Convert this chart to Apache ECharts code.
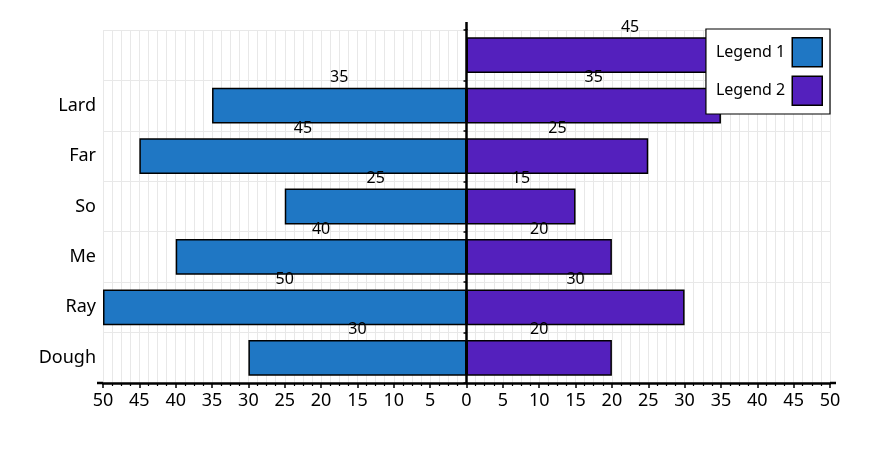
<!DOCTYPE html>
<html><head><meta charset="utf-8">
<script src="https://cdn.jsdelivr.net/npm/echarts@6/dist/echarts.min.js"></script>
<style>html,body{margin:0;padding:0;background:#fff}#c{width:892px;height:450px}</style>
</head><body><div id="c"></div>
<script>
var categories = ['Dough', 'Ray', 'Me', 'So', 'Far', 'Lard', ''];
var legend1 = [30, 50, 40, 25, 45, 35, null];
var legend2 = [20, 30, 20, 15, 25, 35, 45];
var tickValues = [-50, 50, 5];

var W = 892, H = 450;
var gridLeft = 103, gridRight = 62, gridTop = 30, gridBottom = 67;
var plotW = W - gridLeft - gridRight;
var zeroOffset = -plotW * (0 - tickValues[0]) / (tickValues[1] - tickValues[0]);

var chart = echarts.init(document.getElementById('c'));
var font = 'Noto Sans';
chart.setOption({
  animation: false,
  textStyle: {fontFamily: font},
  grid: {left: gridLeft, right: gridRight, top: gridTop, bottom: gridBottom},
  legend: {
    right: 62, top: 29,
    orient: 'vertical',
    align: 'right',
    icon: 'rect',
    itemWidth: 30, itemHeight: 29, itemGap: 8,
    padding: [8, 7, 8, 10],
    backgroundColor: '#fff',
    borderColor: '#000', borderWidth: 1.2,
    textStyle: {fontSize: 16, color: '#000', fontFamily: font, padding: [0, 2, 0, 0]},
    data: [
      {name: 'Legend 1', itemStyle: {borderColor: '#000', borderWidth: 1.5}},
      {name: 'Legend 2', itemStyle: {borderColor: '#000', borderWidth: 1.5}}
    ]
  },
  xAxis: {
    type: 'value', min: tickValues[0], max: tickValues[1], interval: tickValues[2],
    axisLine: {show: true, onZero: false, lineStyle: {color: '#000', width: 2.5}},
    axisTick: {show: true, length: 5, lineStyle: {color: '#000', width: 1.5}},
    minorTick: {show: true, splitNumber: 4, length: 3, lineStyle: {color: '#000', width: 1.2}},
    axisLabel: {fontSize: 18, color: '#000', margin: 9, fontFamily: font,
      formatter: function (v) { return String(Math.abs(v)); }},
    splitLine: {show: true, lineStyle: {color: '#e8e8e8', width: 1}},
    minorSplitLine: {show: true, lineStyle: {color: '#e8e8e8', width: 1}}
  },
  yAxis: [{
    type: 'category', data: categories, position: 'left',
    axisLine: {show: false},
    axisTick: {show: false},
    axisLabel: {fontSize: 18, color: '#000', margin: 7, fontFamily: font},
    splitLine: {show: true, lineStyle: {color: '#e8e8e8', width: 1}}
  }, {
    type: 'category', data: categories, position: 'left', offset: zeroOffset,
    axisLine: {show: true, onZero: false, lineStyle: {color: '#000', width: 2.5}},
    axisTick: {show: true, length: 3, lineStyle: {color: '#000', width: 1.5}},
    axisLabel: {show: false},
    splitLine: {show: false}
  }],
  series: [{
    name: 'Legend 1', type: 'bar', yAxisIndex: 0,
    data: legend1.map(function (v) { return v == null ? null : -v; }),
    barWidth: '71%', barGap: '-100%',
    itemStyle: {color: '#1f77c4', borderColor: '#000', borderWidth: 1.5},
    label: {show: true, position: 'top', distance: 2, fontSize: 16, color: '#000', fontFamily: font,
      formatter: function (p) { return String(Math.abs(p.value)); }}
  }, {
    name: 'Legend 2', type: 'bar', yAxisIndex: 0,
    data: legend2,
    barWidth: '71%', barGap: '-100%',
    itemStyle: {color: '#5420bd', borderColor: '#000', borderWidth: 1.5},
    label: {show: true, position: 'top', distance: 2, fontSize: 16, color: '#000', fontFamily: font,
      formatter: function (p) { return String(Math.abs(p.value)); }}
  }]
});

// axis line overhang (reference axes extend slightly beyond the plot)
var x0 = chart.convertToPixel({xAxisIndex: 0}, 0);
var xl = chart.convertToPixel({xAxisIndex: 0}, tickValues[0]);
var xr = chart.convertToPixel({xAxisIndex: 0}, tickValues[1]);
var yb = H - gridBottom, yt = gridTop;
chart.setOption({
  graphic: [
    {type: 'line', shape: {x1: x0, y1: yt - 8, x2: x0, y2: yt}, style: {stroke: '#000', lineWidth: 2.5}, z: 10},
    {type: 'line', shape: {x1: xl - 6, y1: yb, x2: xl, y2: yb}, style: {stroke: '#000', lineWidth: 2.5}, z: 10},
    {type: 'line', shape: {x1: xr, y1: yb, x2: xr + 6, y2: yb}, style: {stroke: '#000', lineWidth: 2.5}, z: 10}
  ]
});
</script></body></html>
